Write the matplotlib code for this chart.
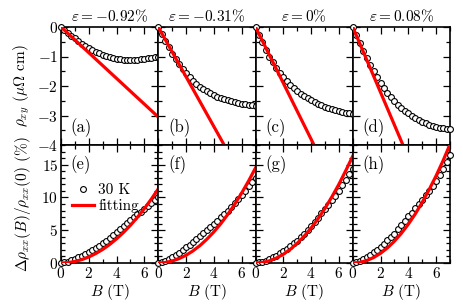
import numpy as np
import matplotlib
matplotlib.use('Agg')
import matplotlib.pyplot as plt
from matplotlib.ticker import MultipleLocator

# Field values (T), read at 0.25 T steps
B = [0, 0.25, 0.5, 0.75, 1, 1.25, 1.5, 1.75, 2, 2.25, 2.5, 2.75, 3, 3.25, 3.5,
     3.75, 4, 4.25, 4.5, 4.75, 5, 5.25, 5.5, 5.75, 6, 6.25, 6.5, 6.75, 7]

strains = ['-0.92', '-0.31', '0', '0.08']

# Hall resistivity rho_xy (uOhm cm)
rho_a = [0, -0.09, -0.19, -0.29, -0.38, -0.47, -0.56, -0.64, -0.71, -0.78, -0.84, -0.89, -0.94, -0.98, -1.02,
         -1.05, -1.08, -1.10, -1.11, -1.12, -1.12, -1.12, -1.11, -1.10, -1.08, -1.06, -1.04, -1.02, -1.0]
rho_b = [0, -0.24, -0.47, -0.69, -0.90, -1.09, -1.27, -1.43, -1.57, -1.70, -1.82, -1.93, -2.02, -2.10, -2.18,
         -2.25, -2.31, -2.36, -2.41, -2.45, -2.49, -2.52, -2.55, -2.58, -2.60, -2.62, -2.64, -2.66, -2.67]
rho_c = [0, -0.26, -0.52, -0.77, -1.00, -1.20, -1.39, -1.56, -1.71, -1.84, -1.96, -2.07, -2.17, -2.26, -2.34,
         -2.42, -2.49, -2.55, -2.60, -2.65, -2.70, -2.74, -2.78, -2.82, -2.85, -2.88, -2.91, -2.93, -2.95]
rho_d = [0, -0.28, -0.55, -0.81, -1.05, -1.28, -1.50, -1.70, -1.89, -2.07, -2.23, -2.38, -2.51, -2.63, -2.74,
         -2.84, -2.93, -3.01, -3.08, -3.15, -3.21, -3.26, -3.31, -3.35, -3.38, -3.41, -3.43, -3.45, -3.47]

# linear fits (values at B = 0 and 7 T)
B_line = [0, 7]
fit_a = [0, -3.05]
fit_b = [0, -5.9]
fit_c = [0, -6.65]
fit_d = [0, -7.75]

# Magnetoresistance (%)
mr_e = [0, 0.10, 0.22, 0.42, 0.65, 0.88, 1.12, 1.38, 1.65, 1.95, 2.28, 2.63, 3.0, 3.4, 3.8,
        4.25, 4.7, 5.15, 5.6, 6.05, 6.5, 6.95, 7.4, 7.85, 8.3, 8.75, 9.2, 9.65, 10.1]
mr_f = [0, 0.15, 0.35, 0.6, 0.9, 1.23, 1.6, 2.0, 2.4, 2.8, 3.2, 3.62, 4.05, 4.52, 5.0,
        5.47, 5.95, 6.45, 6.95, 7.45, 8.0, 8.6, 9.2, 9.8, 10.4, 11.05, 11.7, 12.35, 13.0]
mr_g = [0, 0.08, 0.2, 0.38, 0.6, 0.85, 1.12, 1.45, 1.8, 2.18, 2.58, 2.98, 3.4, 3.93, 4.45,
        5.0, 5.6, 6.25, 6.9, 7.6, 8.3, 8.9, 9.55, 10.25, 11.0, 11.85, 12.7, 13.55, 14.4]
mr_h = [0, 0.15, 0.35, 0.6, 0.9, 1.25, 1.65, 2.05, 2.5, 2.95, 3.45, 3.95, 4.5, 5.12, 5.75,
        6.4, 7.1, 7.7, 8.35, 8.95, 9.6, 10.3, 11.0, 11.75, 12.5, 13.4, 14.35, 15.4, 16.5]

# fitting curves at 0.5 T steps
B_fit = [0, 0.5, 1, 1.5, 2, 2.5, 3, 3.5, 4, 4.5, 5, 5.5, 6, 6.5, 7]
mrfit_e = [0, 0.06, 0.23, 0.52, 0.92, 1.44, 2.07, 2.82, 3.69, 4.67, 5.76, 6.97, 8.3, 9.74, 11.3]
mrfit_f = [0, 0.07, 0.3, 0.67, 1.18, 1.85, 2.66, 3.63, 4.74, 5.99, 7.4, 8.95, 10.66, 12.5, 14.5]
mrfit_g = [0, 0.08, 0.33, 0.75, 1.33, 2.08, 3.0, 4.08, 5.33, 6.75, 8.33, 10.1, 12.0, 14.1, 16.3]
mrfit_h = [0, 0.09, 0.37, 0.83, 1.48, 2.31, 3.33, 4.53, 5.92, 7.49, 9.25, 11.2, 13.3, 15.6, 18.1]

top_data = [rho_a, rho_b, rho_c, rho_d]
top_fit = [fit_a, fit_b, fit_c, fit_d]
bot_data = [mr_e, mr_f, mr_g, mr_h]
bot_fit = [mrfit_e, mrfit_f, mrfit_g, mrfit_h]
top_tags = ['(a)', '(b)', '(c)', '(d)']
bot_tags = ['(e)', '(f)', '(g)', '(h)']

plt.rcParams['font.family'] = 'serif'
plt.rcParams['font.serif'] = ['cmr10']
plt.rcParams['mathtext.fontset'] = 'cm'
plt.rcParams['axes.formatter.use_mathtext'] = True
plt.rcParams['font.size'] = 11

fig = plt.figure(figsize=(4.63, 3.06), dpi=100)
left, right = 61 / 463, 450 / 463
w = (right - left) / 4
y_mid = 1 - 145 / 306
y_top = 1 - 27 / 306
y_bot = 1 - 263 / 306

mk = dict(marker='o', ls='none', ms=4.2, mfc='white', mec='black', mew=0.8, clip_on=False, zorder=3)
fl = dict(color='#ff0000', lw=2.3, zorder=4)


def style(ax):
    ax.tick_params(which='both', direction='in', top=True, right=True, width=0.9, labelsize=11, pad=2)
    ax.tick_params(which='major', length=5)
    ax.tick_params(which='minor', length=3)
    for s in ax.spines.values():
        s.set_linewidth(1.2)
    ax.set_xlim(0, 7)
    ax.xaxis.set_major_locator(MultipleLocator(2))
    ax.xaxis.set_minor_locator(MultipleLocator(1))


for i in range(4):
    ax = fig.add_axes([left + i * w, y_mid, w, y_top - y_mid])
    style(ax)
    ax.plot(B, top_data[i], **mk)
    ax.plot(B_line, top_fit[i], **fl)
    ax.set_ylim(-4, 0)
    ax.yaxis.set_major_locator(MultipleLocator(1))
    ax.yaxis.set_minor_locator(MultipleLocator(0.5))
    ax.tick_params(labelbottom=False)
    if i > 0:
        ax.tick_params(labelleft=False)
    else:
        ax.set_ylabel(r'$\rho_{xy}$ ($\mu\Omega$ cm)', labelpad=4)
    ax.set_title(r'$\varepsilon = %s\%%$' % strains[i], fontsize=11, pad=4)
    ax.text(0.1, 0.15, top_tags[i], transform=ax.transAxes, fontsize=12, va='center')

for i in range(4):
    ax = fig.add_axes([left + i * w, y_bot, w, y_mid - y_bot])
    style(ax)
    ax.plot(B, bot_data[i], label='30 K', **mk)
    ax.plot(B_fit, bot_fit[i], label='fitting', **fl)
    ax.set_ylim(0, 18)
    ax.yaxis.set_major_locator(MultipleLocator(5))
    ax.yaxis.set_minor_locator(MultipleLocator(1))
    ax.set_xlabel(r'$B$ (T)', labelpad=1)
    if i > 0:
        ax.tick_params(labelleft=False)
    else:
        ax.set_ylabel(r'$\Delta\rho_{xx}(B)/\rho_{xx}(0)$ (%)', labelpad=6)
        ax.legend(loc='upper left', bbox_to_anchor=(0.02, 0.75), frameon=False, fontsize=11,
                  handlelength=1.4, handletextpad=0.3, borderpad=0.1, labelspacing=0.1)
    ax.text(0.1, 0.83, bot_tags[i], transform=ax.transAxes, fontsize=12, va='center')

fig.savefig('out.png', dpi=100)
